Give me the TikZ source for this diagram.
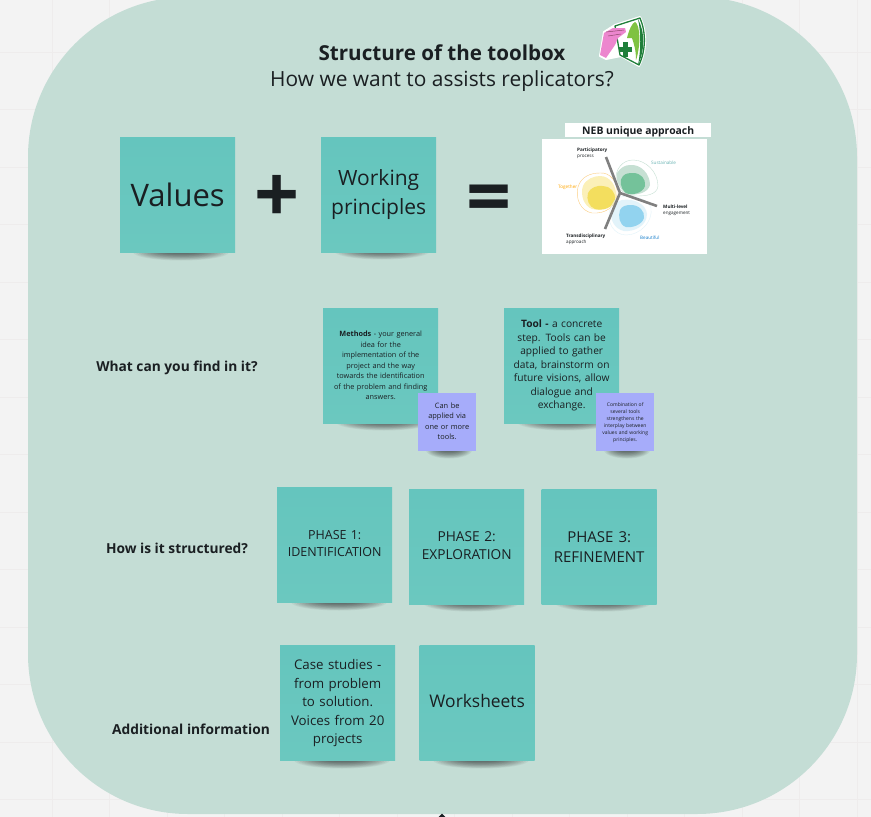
\documentclass[tikz,border=0pt]{standalone}
\usepackage{fontspec}
\setmainfont{Open Sans}
\usetikzlibrary{calc}
\definecolor{bgpage}{HTML}{F3F3F3}
\definecolor{gridc}{HTML}{EEECEC}
\definecolor{panel}{HTML}{C4DDD5}
\definecolor{stickytop}{HTML}{65C5BE}
\definecolor{stickybot}{HTML}{6BC8BF}
\definecolor{violet}{HTML}{A6ACFA}
\definecolor{ink}{HTML}{1A1F22}
\definecolor{iconpink}{HTML}{EC86CE}
\definecolor{icondark}{HTML}{1F7F3A}
\definecolor{iconleaf}{HTML}{7FC241}
\definecolor{yellowmid}{HTML}{FBF0B8}
\definecolor{yellowcore}{HTML}{F3DE5E}
\definecolor{greenmid}{HTML}{C6E0D3}
\definecolor{greencore}{HTML}{74C29A}
\definecolor{bluemid}{HTML}{E2F3FA}
\definecolor{bluecore}{HTML}{92D3EF}
\tikzset{
  sticky/.style={minimum width=115pt,minimum height=115pt,inner sep=2pt,align=center,text=ink,
    top color=stickytop,bottom color=stickybot,text width=111pt,anchor=north west},
  smallnote/.style={minimum width=58pt,minimum height=58pt,inner sep=1pt,align=center,text=ink,
    fill=violet,text width=56pt,anchor=north west},
  rowlabel/.style={font=\bfseries\fontsize{13.75}{17}\selectfont,text=ink,anchor=center,inner sep=0pt},
  tinylabel/.style={font=\fontsize{4.6}{6}\selectfont,align=left,inner sep=0pt,anchor=west},
  bigsign/.style={font=\bfseries\fontsize{79}{79}\selectfont,text=ink,inner sep=0pt},
}
\newcommand{\noteshadow}[3]{% centre x, y, half width
  \foreach \k in {0,...,11}{
    \fill[black,opacity=0.05] (#1,#2) ellipse [x radius={(#3-\k*0.055*#3)*1pt},y radius={8.5pt-\k*0.6pt}];
  }}
\begin{document}
\begin{tikzpicture}[x=1pt,y=-1pt]
\useasboundingbox (0,0) rectangle (871,817);
\fill[bgpage] (0,0) rectangle (871,817);
\foreach \g in {52,109.5,167,224.5,282,339.5,397,454.5,512,569.5,627,684.5,742,799.5,857}{
  \draw[gridc,line width=1pt] (\g,0) -- (\g,817);
  \draw[gridc,line width=1pt] (0,\g) -- (871,\g);
}
% main panel
\fill[panel,rounded corners=160pt] (28,-3) rectangle (857,814);
\fill[ink] (442,813.5) -- (445.5,817) -- (438.5,817) -- cycle;

% title
\node[font=\bfseries\fontsize{20.6}{24}\selectfont,text=ink,inner sep=0pt] (title) at (442,52.5) {Structure of the toolbox};
\node[font=\fontsize{20.9}{24}\selectfont,text=ink,inner sep=0pt] (subtitle) at (442,81) {How we want to assists replicators?};

% icon
\fill[white,draw=white,line width=2pt,line join=round] (600,56) -- (604,32) -- (615,25) -- (640,17) .. controls (647,32) and (647,50) .. (639,66) -- (621,56) -- (606,59) -- cycle;
\fill[white,draw=icondark,line width=1.3pt,line join=round] (615,26) -- (640,18) .. controls (646,32) and (646,50) .. (639,65) -- (620,55) -- cycle;
\fill[icondark] (638,19) .. controls (645,32) and (645,50) .. (638,65) .. controls (641,50) and (641,32) .. (638,19) -- cycle;
\fill[iconleaf] (627,38) .. controls (629,30) and (632,23) .. (635,22) .. controls (639,24) and (640,36) .. (639,46) .. controls (638,53) and (637,58) .. (636,60) .. controls (636,50) and (634,44) .. (632,38) -- cycle;
\fill[icondark] (623,41.5) rectangle (628,57);
\fill[icondark] (619,47) rectangle (632,52);
\fill[iconpink] (600,55) -- (604,33) -- (613,28) -- (625,28) -- (626,32) -- (618,38) -- (615,45) -- (606,58) -- cycle;
\draw[magenta!50!black,line width=.5pt] (606,32) -- (624,30) (608,36) -- (621,34);

% top row
\noteshadow{181}{252}{48}
\noteshadow{382}{251}{48}
\node[sticky,font=\fontsize{31}{38}\selectfont] (values) at (120,137) {Values};
\node[sticky,font=\fontsize{21}{28.5}\selectfont] (working) at (321,137) {Working\\principles};
\node[bigsign] (plus) at (277.5,198.5) {+};
\node[bigsign] (equals) at (489.5,204.5) {=};

% NEB figure
\node[fill=white,minimum width=146pt,minimum height=14pt,inner sep=0pt,font=\bfseries\fontsize{10.4}{12}\selectfont,text=ink,anchor=north west] (neb) at (565,123) {NEB unique approach\rule{0pt}{11.5pt}};
\node[fill=white,minimum width=165pt,minimum height=115pt,inner sep=0pt,anchor=north west] (figure) at (542,139) {};
% yellow blobs
\draw[yellowmid!70!orange,line width=.4pt] (600,173) .. controls (610,172) and (618,182) .. (617,194) .. controls (616,208) and (604,214) .. (592,213) .. controls (581,211) and (575,199) .. (578,187) .. controls (581,177) and (590,173) .. (600,173) -- cycle;
\fill[yellowmid] (600,176) .. controls (610,176) and (617,186) .. (616,197) .. controls (614,208) and (602,211) .. (592,209) .. controls (584,206) and (580,195) .. (583,186) .. controls (586,179) and (594,176) .. (600,176) -- cycle;
\fill[yellowcore] (603,186) .. controls (610,186) and (616,192) .. (615,200) .. controls (613,208) and (603,211) .. (595,209) .. controls (589,207) and (586,199) .. (588,193) .. controls (590,188) and (597,185) .. (603,186) -- cycle;
% green blobs
\draw[greenmid,line width=.4pt] (633,160) .. controls (646,160) and (658,172) .. (658,186) .. controls (657,195) and (646,196) .. (636,196) .. controls (626,196) and (618,190) .. (616,180) .. controls (615,170) and (622,160) .. (633,160) -- cycle;
\fill[greenmid] (630,165) .. controls (641,164) and (650,174) .. (650,185) .. controls (648,193) and (636,196) .. (627,194) .. controls (620,190) and (615,180) .. (617,173) .. controls (620,168) and (625,165) .. (630,165) -- cycle;
\fill[greencore] (633,173) .. controls (641,173) and (646,179) .. (645,186) .. controls (643,193) and (632,196) .. (626,193) .. controls (620,188) and (619,180) .. (623,176) .. controls (626,173) and (630,173) .. (633,173) -- cycle;
% blue blobs
\draw[bluemid,line width=.4pt] (620,197) .. controls (632,195) and (648,198) .. (651,208) .. controls (653,222) and (640,235) .. (626,235) .. controls (614,235) and (606,222) .. (610,210) .. controls (612,203) and (616,198) .. (620,197) -- cycle;
\fill[bluemid] (622,200) .. controls (634,198) and (646,204) .. (647,214) .. controls (647,226) and (634,232) .. (624,231) .. controls (614,229) and (609,218) .. (612,210) .. controls (614,204) and (618,201) .. (622,200) -- cycle;
\fill[bluecore] (631,205) .. controls (639,205) and (645,211) .. (644,218) .. controls (642,225) and (632,228) .. (626,227) .. controls (619,225) and (618,216) .. (620,210) .. controls (622,206) and (626,205) .. (631,205) -- cycle;
\draw[black!50,line width=2.6pt] (606,157) -- (620,193) (620,193) -- (657,206) (620,193) -- (605,229);
\node[tinylabel,text=ink] (l1) at (577,153.5) {\textbf{Participatory}\\process};
\node[tinylabel,text=teal!60] (l2) at (651,163) {Sustainable};
\node[tinylabel,text=orange!70!yellow] (l3) at (558,187) {Together};
\node[tinylabel,text=ink] (l4) at (663,210.5) {\textbf{Multi-level}\\engagement};
\node[tinylabel,text=ink] (l5) at (566,239.5) {\textbf{Transdisciplinary}\\approach};
\node[tinylabel,text=cyan!60!blue] (l6) at (640,238) {Beautiful};

% row 2
\node[rowlabel] (find) at (177,367.5) {What can you find in it?};
\noteshadow{384}{422}{48}
\noteshadow{565}{422}{48}
\node[sticky,font=\fontsize{7.3}{10.5}\selectfont] (methods) at (323,308) {\textbf{Methods} - your general\\idea for the\\implementation of the\\project and the way\\towards the identification\\of the problem and finding\\answers.};
\node[sticky,font=\fontsize{10.2}{13.5}\selectfont] (tool) at (504,308) {\textbf{Tool -} a concrete\\step. Tools can be\\applied to gather\\data, brainstorm on\\future visions, allow\\dialogue and\\exchange.};
\noteshadow{449}{450}{23}
\noteshadow{627}{450}{23}
\node[smallnote,font=\fontsize{7.4}{10.4}\selectfont] (applied) at (418,393) {Can be\\applied via\\one or more\\tools.\rule[-2pt]{0pt}{2pt}};
\node[smallnote,font=\fontsize{5}{7}\selectfont] (combo) at (596,393) {Combination of\\several tools\\strengthens the\\interplay between\\values and working\\principles.};

% row 3
\node[rowlabel] (struct) at (177,548) {How is it structured?};
\noteshadow{339}{602}{48}
\noteshadow{471}{603}{48}
\noteshadow{603}{603}{48}
\node[sticky,font=\fontsize{12.5}{17}\selectfont] (p1) at (277,487.5) {PHASE 1:\\IDENTIFICATION\rule[-4pt]{0pt}{4pt}};
\node[sticky,font=\fontsize{13.7}{18}\selectfont] (p2) at (409,489) {PHASE 2:\\EXPLORATION\rule[-2pt]{0pt}{2pt}};
\node[sticky,font=\fontsize{15}{20}\selectfont] (p3) at (541.5,489) {PHASE 3:\\REFINEMENT};

% row 4
\node[rowlabel] (extra) at (191,729) {Additional information};
\noteshadow{342}{760}{48}
\noteshadow{481}{760}{48}
\node[sticky,font=\fontsize{13.3}{18.5}\selectfont] (cases) at (280,645.5) {Case studies -\\from problem\\to solution.\\Voices from 20\\projects};
\node[sticky,font=\fontsize{17.4}{20}\selectfont] (sheets) at (419.5,645.5) {Worksheets\rule[-4pt]{0pt}{4pt}};
\end{tikzpicture}
\end{document}
